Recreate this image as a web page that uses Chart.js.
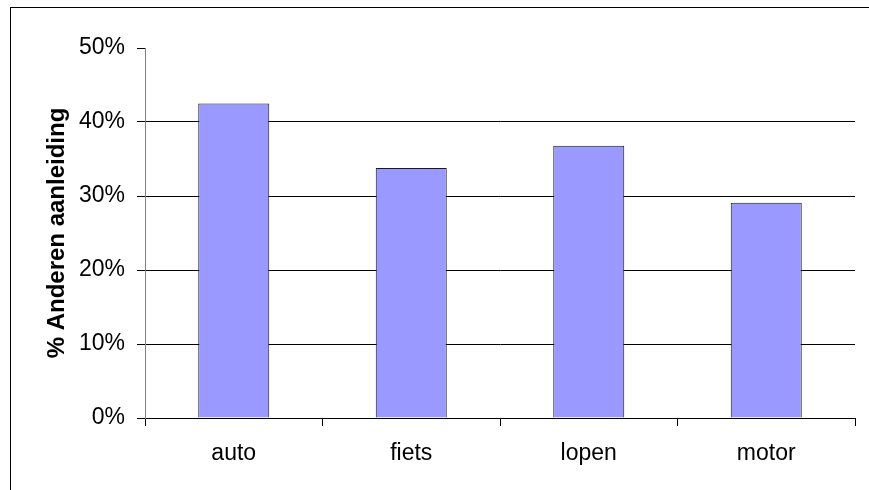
<!DOCTYPE html>
<html>
<head>
<meta charset="utf-8">
<script src="https://cdn.jsdelivr.net/npm/chart.js@4/dist/chart.umd.min.js"></script>
<style>
  html, body { margin: 0; padding: 0; background: #fff; }
  #wrap { position: relative; width: 869px; height: 490px; }
</style>
</head>
<body>
<div id="wrap"><canvas id="c" width="869" height="490"></canvas></div>
<script>
// Share of "other cause" per mode of transport
const categories = ['auto', 'fiets', 'lopen', 'motor'];
const values = [42.5, 33.8, 36.8, 29.1];
const yTicks = [0, 10, 20, 30, 40, 50];
const yTitle = '% Anderen aanleiding';

const FONT = '"Liberation Sans", Arial, sans-serif';

// thin outer frame around the whole chart
const framePlugin = {
  id: 'frame',
  beforeDraw(chart) {
    const ctx = chart.ctx;
    ctx.save();
    ctx.fillStyle = '#fff';
    ctx.fillRect(0, 0, chart.width, chart.height);
    ctx.strokeStyle = '#000';
    ctx.lineWidth = 1;
    ctx.strokeRect(10.5, 7.5, 1000, 1000);
    ctx.restore();
  }
};

new Chart(document.getElementById('c'), {
  type: 'bar',
  data: {
    labels: categories,
    datasets: [{
      data: values,
      backgroundColor: '#9999FF',
      borderColor: '#1a1a1a',
      borderWidth: 1,
      barPercentage: 0.4,
      categoryPercentage: 1.0
    }]
  },
  options: {
    responsive: false,
    animation: false,
    devicePixelRatio: 1,
    layout: { padding: { top: 48, right: 14, left: 0, bottom: 0 } },
    plugins: {
      legend: { display: false },
      tooltip: { enabled: false }
    },
    scales: {
      x: {
        afterFit(scale) { scale.height = 72; },
        grid: {
          offset: true,
          drawOnChartArea: false,
          color: '#000',
          tickLength: 8,
          lineWidth: 1
        },
        border: { color: '#000', width: 1 },
        ticks: {
          color: '#000',
          padding: 14,
          font: { family: FONT, size: 23 }
        }
      },
      y: {
        min: 0,
        max: 50,
        afterFit(scale) { scale.width = 145; },
        afterBuildTicks(scale) { scale.ticks = yTicks.map(v => ({ value: v })); },
        grid: {
          color: (ctx) => (ctx.tick && ctx.tick.value === 50) ? 'rgba(0,0,0,0)' : '#000',
          tickColor: '#000',
          tickLength: 8,
          lineWidth: 1
        },
        border: { color: '#808080', width: 1 },
        ticks: {
          color: '#000',
          padding: 12,
          font: { family: FONT, size: 23 },
          callback: (v) => v + '%'
        },
        title: {
          display: true,
          text: yTitle,
          color: '#000',
          padding: { top: 43, bottom: 0 },
          font: { family: FONT, size: 24, weight: 'bold' }
        }
      }
    }
  },
  plugins: [framePlugin]
});
</script>
</body>
</html>
